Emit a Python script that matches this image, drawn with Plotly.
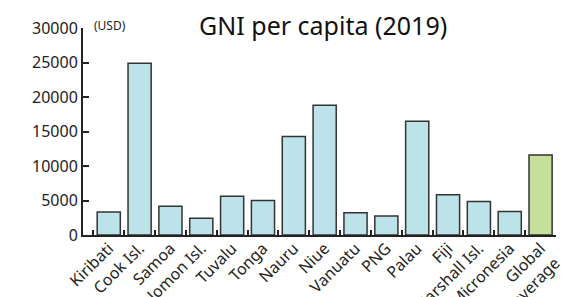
import plotly.graph_objects as go

categories = ["Kiribati", "Cook Isl.", "Samoa", "Solomon Isl.", "Tuvalu", "Tonga", "Nauru",
              "Niue", "Vanuatu", "PNG", "Palau", "Fiji", "Marshall Isl.", "Micronesia",
              "Global<br>average"]
values = [3350, 24900, 4180, 2410, 5630, 5000, 14290, 18800, 3220, 2740, 16500, 5820, 4860, 3420, 11590]
colors = ["#bde3ea"] * 14 + ["#c6df9a"]
y_ticks = [0, 5000, 10000, 15000, 20000, 25000, 30000]

FONT = "Noto Sans"
idx = list(range(len(categories)))

fig = go.Figure()
fig.add_trace(go.Bar(x=idx, y=values, width=0.75,
                     marker=dict(color=colors, line=dict(color="#333333", width=1.5)),
                     showlegend=False))
# invisible trace to activate the label axis
fig.add_trace(go.Scatter(x=[0], y=[0], xaxis="x2", mode="markers",
                         marker=dict(opacity=0), showlegend=False, hoverinfo="skip"))

xr = [-0.835, 14.5]
fig.update_layout(
    width=563, height=297,
    margin=dict(l=83, r=7, t=28, b=62, autoexpand=False),
    paper_bgcolor="white", plot_bgcolor="white",
    font=dict(family=FONT, color="#222222"),
    title=dict(text="GNI per capita (2019)", x=0.574, xanchor="center", y=0.912, yanchor="middle",
               font=dict(size=25, color="#111111")),
    xaxis=dict(range=xr, tickmode="array", tickvals=[i - 0.5 for i in range(16)],
               showticklabels=False, ticks="inside", ticklen=5, tickwidth=1.5, tickcolor="#222",
               showline=True, linecolor="#222", linewidth=2, showgrid=False, zeroline=False,
               automargin=False),
    xaxis2=dict(range=xr, overlaying="x", side="bottom", tickmode="array", tickvals=idx,
                ticktext=categories, tickangle=-45, ticks="", showline=False, showgrid=False,
                zeroline=False, automargin=False, ticklabeloverflow="allow",
                tickfont=dict(size=16, color="#222222", family=FONT)),
    yaxis=dict(range=[0, 30000], tickmode="array", tickvals=y_ticks,
               ticktext=[str(v) for v in y_ticks], ticks="inside", ticklen=6, tickwidth=2,
               tickcolor="#222", showline=True, linecolor="#222", linewidth=2,
               showgrid=False, zeroline=False, automargin=False,
               tickfont=dict(size=16, color="#222222")),
    annotations=[dict(text="(USD)", xref="paper", yref="paper", x=0.019, y=1.01,
                      xanchor="left", yanchor="middle", showarrow=False,
                      font=dict(size=12, color="#222222"))],
)
fig.write_html("out.html", config={"displayModeBar": False},
               post_script="document.body.style.margin='0px';document.body.style.overflow='hidden';")
